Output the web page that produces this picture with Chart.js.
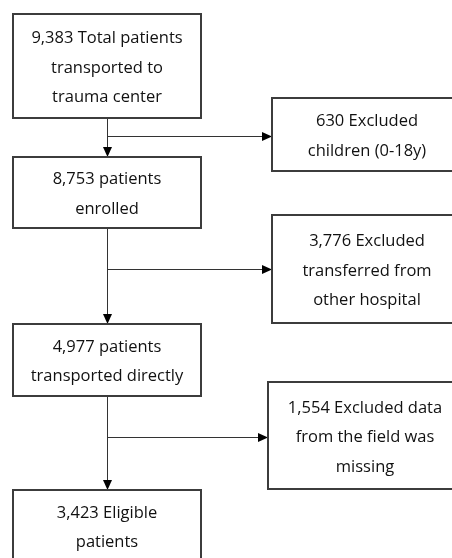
<!DOCTYPE html>
<html>
<head>
<meta charset="utf-8">
<script src="https://cdn.jsdelivr.net/npm/chart.js@4.4.1/dist/chart.umd.min.js"></script>
<style>
  html, body { margin: 0; padding: 0; background: #ffffff; }
  #wrap { width: 452px; height: 558px; position: relative; }
</style>
</head>
<body>
<div id="wrap"><canvas id="c" width="452" height="558"></canvas></div>
<script>
// ---- data ----
const stageCounts = [9383, 8753, 4977, 3423];
const stageLabels = [
  'Total patients\ntransported to\ntrauma center',
  'patients\nenrolled',
  'patients\ntransported directly',
  'Eligible\npatients'
];
const excludedCounts = [630, 3776, 1554];
const excludedLabels = [
  'Excluded\nchildren (0-18y)',
  'Excluded\ntransferred from\nother hospital',
  'Excluded data\nfrom the field was\nmissing'
];

// ---- layout (positions / sizes, kept apart from data) ----
const stageBoxes = [
  { left: 13, top: 14,  w: 188, h: 104 },
  { left: 13, top: 157, w: 188, h: 71 },
  { left: 13, top: 324, w: 188, h: 72 },
  { left: 13, top: 490, w: 188, h: 72 }
];
const excludedBoxes = [
  { left: 272, top: 98,  w: 190, h: 73 },
  { left: 272, top: 215, w: 190, h: 108 },
  { left: 268, top: 382, w: 194, h: 107 }
];
const branchY = [136, 269, 437];
const FONT = '16.5px "Open Sans", "Noto Sans", sans-serif';
const LINE_H = 29.5;

function fmt(n) { return n.toLocaleString('en-US'); }

function buildPoints(counts, labels, boxes) {
  return counts.map((c, i) => ({
    x: boxes[i].left + boxes[i].w / 2,
    y: boxes[i].top + boxes[i].h / 2,
    count: c,
    text: (fmt(c) + ' ' + labels[i]).split('\n'),
    box: boxes[i]
  }));
}

const flowPlugin = {
  id: 'flow',
  afterDatasetsDraw(chart) {
    const ctx = chart.ctx;
    const xs = chart.scales.x, ys = chart.scales.y;
    const px = v => xs.getPixelForValue(v);
    const py = v => ys.getPixelForValue(v);
    ctx.save();

    function drawBox(pt) {
      const b = pt.box;
      const x0 = Math.round(px(b.left)), y0 = Math.round(py(b.top));
      const x1 = Math.round(px(b.left + b.w)), y1 = Math.round(py(b.top + b.h));
      ctx.fillStyle = '#ffffff';
      ctx.fillRect(x0, y0, x1 - x0, y1 - y0);
      ctx.strokeStyle = '#3c3c3c';
      ctx.lineWidth = 2;
      ctx.strokeRect(x0, y0, x1 - x0, y1 - y0);
      ctx.fillStyle = '#111111';
      ctx.font = FONT;
      ctx.textAlign = 'center';
      ctx.textBaseline = 'middle';
      const cx = px(pt.x), cy = py(pt.y) + 2;
      const n = pt.text.length;
      pt.text.forEach((line, k) => {
        ctx.fillText(line, cx, cy + (k - (n - 1) / 2) * LINE_H);
      });
    }

    function arrowDown(x, y) {
      ctx.beginPath();
      ctx.moveTo(x, y);
      ctx.lineTo(x - 4.5, y - 10);
      ctx.lineTo(x + 4.5, y - 10);
      ctx.closePath();
      ctx.fill();
    }
    function arrowRight(x, y) {
      ctx.beginPath();
      ctx.moveTo(x, y);
      ctx.lineTo(x - 10, y - 4.5);
      ctx.lineTo(x - 10, y + 4.5);
      ctx.closePath();
      ctx.fill();
    }

    const stages = chart.data.datasets[0].data;
    const excl = chart.data.datasets[1].data;

    // connectors
    ctx.strokeStyle = '#333333';
    ctx.fillStyle = '#000000';
    ctx.lineWidth = 1;
    for (let i = 0; i < stages.length - 1; i++) {
      const a = stages[i].box, b = stages[i + 1].box;
      const x = Math.round(px(stages[i].x)) + 0.5;
      const yTop = py(a.top + a.h), yBot = py(b.top);
      const yb = Math.round(py(branchY[i])) + 0.5;
      const tgt = px(excl[i].box.left);
      ctx.beginPath();
      ctx.moveTo(x, yTop);
      ctx.lineTo(x, yBot - 9);
      ctx.moveTo(x, yb);
      ctx.lineTo(tgt - 9, yb);
      ctx.stroke();
      arrowDown(x, yBot);
      arrowRight(tgt, yb);
    }

    stages.forEach(drawBox);
    excl.forEach(drawBox);
    ctx.restore();
  }
};

new Chart(document.getElementById('c'), {
  type: 'scatter',
  data: {
    datasets: [
      { label: 'Stages', data: buildPoints(stageCounts, stageLabels, stageBoxes), pointRadius: 0, showLine: false },
      { label: 'Excluded', data: buildPoints(excludedCounts, excludedLabels, excludedBoxes), pointRadius: 0, showLine: false }
    ]
  },
  options: {
    responsive: false,
    animation: false,
    devicePixelRatio: 1,
    layout: { padding: 0 },
    plugins: { legend: { display: false }, tooltip: { enabled: false }, title: { display: false } },
    scales: {
      x: { type: 'linear', min: 0, max: 452, display: false },
      y: { type: 'linear', min: 0, max: 558, reverse: true, display: false }
    }
  },
  plugins: [flowPlugin]
});
</script>
</body>
</html>
